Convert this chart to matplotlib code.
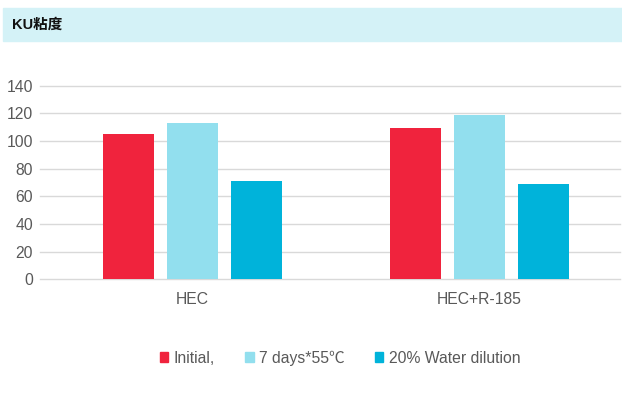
import matplotlib
matplotlib.use("Agg")
import matplotlib.pyplot as plt
from matplotlib.patches import Rectangle, Patch
import numpy as np

plt.rcParams['font.family'] = ['Liberation Sans', 'Noto Sans CJK SC', 'DejaVu Sans']

# data
categories = ['HEC', 'HEC+R-185']
series_names = ['Initial,', '7 days*55℃', '20% Water dilution']
initial = [105, 109]
days7 = [113, 119]
water = [71, 69]
colors = ['#F0233D', '#92DFEE', '#00B3DA']

fig = plt.figure(figsize=(6.22, 3.96), dpi=100)

# title band
fig.patches.append(Rectangle((3 / 622, 1 - 41 / 396), 1, 33 / 396,
                             transform=fig.transFigure, color='#D4F2F7', zorder=0))
fig.text(12 / 622, 1 - 25 / 396, 'KU粘度', fontsize=10.5, fontweight='bold',
         color='#111111', va='center', ha='left')

ax = fig.add_axes([40 / 622, 1 - 279.3 / 396, 580 / 622, (279.3 - 85.6) / 396])

x = np.arange(len(categories))
pitch = 0.223
width = 0.178
for i, (vals, c) in enumerate(zip([initial, days7, water], colors)):
    ax.bar(x + (i - 1) * pitch, vals, width, color=c, zorder=3)

ax.set_xlim(-0.53, 1.49)
ax.set_ylim(0, 140)
ax.set_yticks(range(0, 141, 20))
ax.set_xticks(x)
ax.set_xticklabels(categories)
ax.grid(axis='y', color='#D9D9D9', linewidth=1, zorder=0)
for g in ax.get_ygridlines():
    g.set_clip_on(False)
for s in ax.spines.values():
    s.set_visible(False)
ax.tick_params(length=0, labelsize=11.3, labelcolor='#595959')
ax.tick_params(axis='x', pad=9)
ax.tick_params(axis='y', pad=5)

handles = [Patch(color=c) for c in colors]
fig.legend(handles, series_names, loc='center', bbox_to_anchor=(340 / 622, 1 - 358 / 396),
           ncol=3, frameon=False, fontsize=11.3, labelcolor='#595959',
           handlelength=0.55, handleheight=0.55, handletextpad=0.35, columnspacing=1.9)

fig.savefig('out.png', dpi=100)
